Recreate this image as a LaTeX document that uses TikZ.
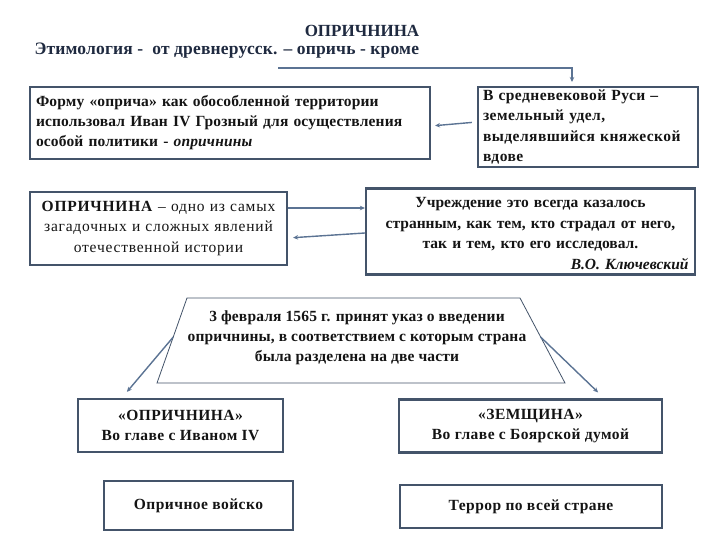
\documentclass[tikz,border=0pt]{standalone}
\usepackage{fontspec}
\setmainfont{Liberation Serif}
\usetikzlibrary{arrows.meta,calc}
\definecolor{bord}{HTML}{44546A}
\definecolor{conncol}{HTML}{5B7393}
\definecolor{ink}{HTML}{141414}
\definecolor{navy}{HTML}{1F2A40}
\newcommand{\ls}[1]{\addfontfeatures{LetterSpace=#1}}
\begin{document}
\begin{tikzpicture}[x=1pt,y=-1pt,
  box/.style={draw=bord, line width=2.2pt, fill=white, inner sep=0pt, text=ink,
    font=\fontsize{15.5}{20.3}\selectfont\bfseries\ls{3}},
  regbox/.style={box, font=\fontsize{15.5}{20.3}\selectfont\ls{5}},
  conn/.style={draw=conncol, line width=1.4pt, -{Stealth[length=5pt,width=4.5pt]}}]
\useasboundingbox (0,0) rectangle (720,540);

% title
\node[font=\fontsize{17}{20}\selectfont\bfseries, text=navy] (title) at (362,31) {ОПРИЧНИНА};
\node[font=\fontsize{17.5}{20}\selectfont\bfseries\ls{1}, text=navy, anchor=west] (etym) at (31,51)
  {Этимология -\ \ от древнерусск. – опричь - кроме};

% boxes
\node[box, font=\fontsize{15.5}{20}\selectfont\bfseries\ls{1}, minimum width=400, minimum height=72, text width=388, align=left] (b1) at (230,123)
  {Форму «оприча» как обособленной территории\\использовал Иван IV Грозный для осуществления\\особой политики - \textit{опричнины}};
\node[box, font=\fontsize{15.5}{20.3}\selectfont\bfseries\ls{3}, minimum width=220, minimum height=80, text width=210, align=left] (b2) at (588,127)
  {В средневековой Руси –\\земельный удел,\\выделявшийся княжеской\\вдове};
\node[regbox, minimum width=257, minimum height=73, text width=250, align=center] (b3) at (158.5,228.5)
  {\textbf{ОПРИЧНИНА} – одно из самых\\загадочных и сложных явлений\\отечественной истории};
\node[box, font=\fontsize{15.5}{20.5}\selectfont\bfseries, minimum width=329, minimum height=86, text width=316, align=center] (b4) at (530.5,231.5)
  {\rule{0pt}{14pt}Учреждение это всегда казалось\\странным, как тем, кто страдал от него,\\так и тем, кто его исследовал.\\\hfill\textit{В.О. Ключевский}};

% trapezoid
\coordinate (tl) at (187,298);
\coordinate (tr) at (520,298);
\coordinate (br) at (565,383);
\coordinate (bl) at (157,383);
\filldraw[fill=white, draw=bord, line width=0.8pt] (tl) -- (tr) -- (br) -- (bl) -- cycle;
\node[font=\fontsize{15.5}{20}\selectfont\bfseries\ls{1}, text=ink, align=center] (t5) at (357,338)
  {3 февраля 1565 г. принят указ о введении\\опричнины, в соответствием с которым страна\\была разделена на две части};

\node[box, minimum width=205, minimum height=53, align=center] (b6) at (180.5,425.5)
  {«ОПРИЧНИНА»\\Во главе с Иваном IV};
\node[box, minimum width=263, minimum height=53, align=center] (b7) at (530.5,426)
  {«ЗЕМЩИНА»\\Во главе с Боярской думой};
\node[box, minimum width=189, minimum height=49, align=center] (b8) at (198.5,505.5)
  {Опричное войско};
\node[box, minimum width=262, minimum height=43, align=center] (b9) at (531,506.5)
  {Террор по всей стране};

% connectors
\coordinate (c1) at (278,68);
\coordinate (c2) at (572,82);
\draw[conn] (c1) -| (c2);
\draw[conn, shorten <=5pt, shorten >=4pt] ([yshift=5pt]b2.west) -- ([yshift=-3pt]b1.east);
\draw[conn] ([yshift=20.5pt]b3.east) -- ([yshift=20.5pt]b3.east -| b4.west);
\draw[conn, shorten >=5pt] ([yshift=-1.5pt]b4.west) -- ([yshift=-9.5pt]b3.east);
\coordinate (lsd) at ($(tl)!0.46!(bl)$);
\coordinate (rsd) at ($(tr)!0.46!(br)$);
\draw[conn] (lsd) -- ($(b6.north west)+(50,-6)$);
\draw[conn] (rsd) -- ($(b7.north east)+(-65,-6)$);
\end{tikzpicture}
\end{document}
